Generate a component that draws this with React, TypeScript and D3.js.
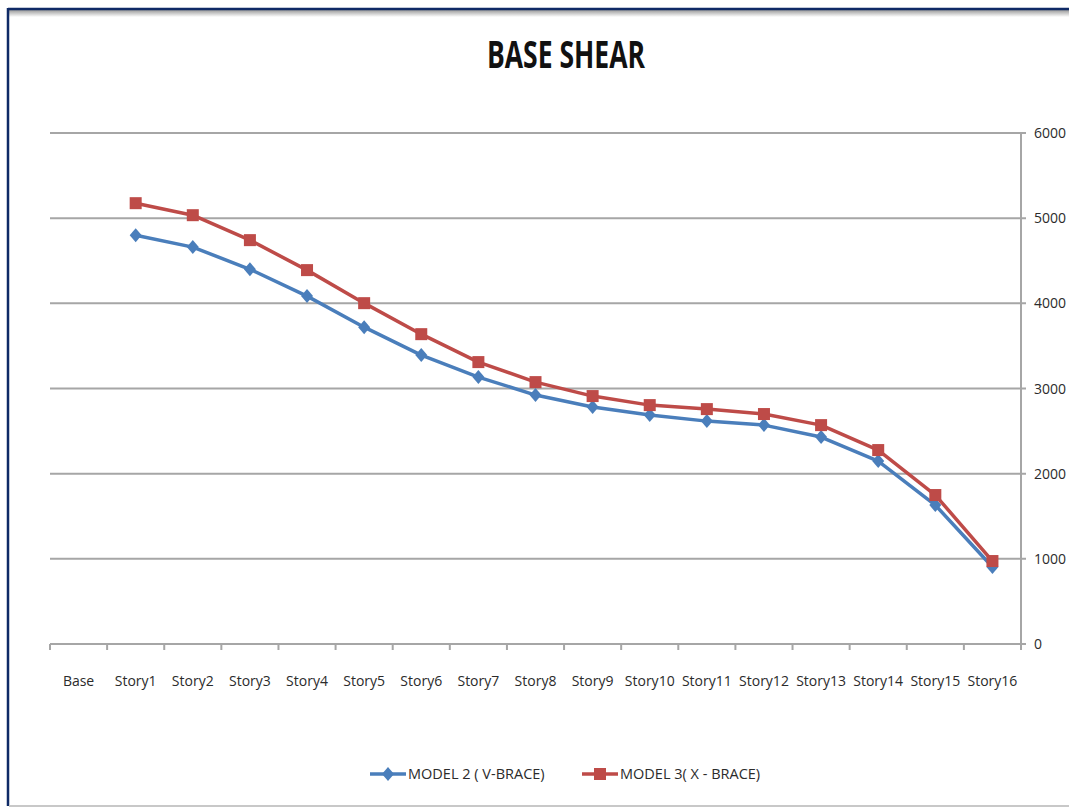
import * as d3 from 'd3';

const categories = [
  'Base', 'Story1', 'Story2', 'Story3', 'Story4', 'Story5', 'Story6', 'Story7', 'Story8',
  'Story9', 'Story10', 'Story11', 'Story12', 'Story13', 'Story14', 'Story15', 'Story16',
];

// Base has no value in either series
const model2Values: Array<number | null> = [
  null, 4800, 4660, 4400, 4085, 3720, 3392, 3134, 2923, 2782, 2688, 2617, 2570, 2430, 2148, 1631, 904,
];
const model3Values: Array<number | null> = [
  null, 5176, 5035, 4742, 4390, 4002, 3638, 3310, 3075, 2911, 2805, 2758, 2700, 2570, 2277, 1749, 974,
];
const yTicks = [0, 1000, 2000, 3000, 4000, 5000, 6000];

const series = [
  { name: 'MODEL 2 ( V-BRACE)', values: model2Values, color: '#4a7ebb', marker: 'diamond' },
  { name: 'MODEL 3( X - BRACE)', values: model3Values, color: '#be4b48', marker: 'square' },
];

const width = 1069;
const height = 809;
const plot = { left: 50, right: 1021, top: 133, bottom: 644 };
const font = '"Open Sans", sans-serif';

function Marker({ kind, x, y, color }: { kind: string; x: number; y: number; color: string }) {
  if (kind === 'square') {
    return <rect x={x - 6} y={y - 6} width={12} height={12} fill={color} />;
  }
  return <path d={`M${x},${y - 7}L${x + 6},${y}L${x},${y + 7}L${x - 6},${y}Z`} fill={color} />;
}

export default function App() {
  const x = d3.scaleBand<string>().domain(categories).range([plot.left, plot.right]);
  const y = d3.scaleLinear().domain([0, 6000]).range([plot.bottom, plot.top]);
  const cx = (c: string) => (x(c) ?? 0) + x.bandwidth() / 2;

  const line = d3
    .line<number | null>()
    .defined((v) => v !== null)
    .x((_, i) => cx(categories[i]))
    .y((v) => y(v as number));

  const boundaries = categories.map((c) => x(c) ?? 0).concat([plot.right]);

  return (
    <svg
      width={width}
      height={height}
      style={{ position: 'absolute', left: 0, top: 0, background: '#fff' }}
    >
      <defs>
        <linearGradient id="topShade" x1="0" y1="0" x2="0" y2="1">
          <stop offset="0" stopColor="#9a9a9a" />
          <stop offset="1" stopColor="#ffffff" />
        </linearGradient>
      </defs>
      <rect x={0} y={0} width={width} height={height} fill="#fff" />
      <rect x={9} y={10} width={width - 9} height={7} fill="url(#topShade)" />
      <line x1={8} x2={width} y1={9} y2={9} stroke="#0f2a66" strokeWidth={2.5} />
      <line x1={8} x2={8} y1={8} y2={806} stroke="#0f2a66" strokeWidth={2.5} />
      <line x1={9} x2={width} y1={806} y2={806} stroke="#c8c8c8" strokeWidth={2} />

      <text
        x={487}
        y={68}
        fontFamily={font}
        fontWeight="bold"
        fontSize={37}
        textLength={158}
        lengthAdjust="spacingAndGlyphs"
        fill="#111"
      >
        BASE SHEAR
      </text>

      {yTicks.map((t) => (
        <g key={t}>
          <line x1={plot.left} x2={plot.right + 5} y1={y(t)} y2={y(t)} stroke="#a6a6a6" strokeWidth={2} />
          <text
            x={plot.right + 13}
            y={y(t) + 5}
            fontFamily={font}
            fontSize={14}
            fill="#2b2b2b"
          >
            {t}
          </text>
        </g>
      ))}
      <line x1={plot.right} x2={plot.right} y1={plot.top} y2={plot.bottom} stroke="#a6a6a6" strokeWidth={2} />

      {boundaries.map((b, i) => (
        <line key={i} x1={b} x2={b} y1={plot.bottom} y2={plot.bottom + 6} stroke="#a6a6a6" strokeWidth={2} />
      ))}
      {categories.map((c) => (
        <text
          key={c}
          x={cx(c)}
          y={plot.bottom + 42}
          textAnchor="middle"
          fontFamily={font}
          fontSize={14}
          fill="#2b2b2b"
        >
          {c}
        </text>
      ))}

      {series.map((s) => (
        <g key={s.name}>
          <path d={line(s.values) ?? ''} fill="none" stroke={s.color} strokeWidth={3.5} strokeLinejoin="round" />
          {s.values.map((v, i) =>
            v === null ? null : (
              <Marker key={i} kind={s.marker} x={cx(categories[i])} y={y(v)} color={s.color} />
            ),
          )}
        </g>
      ))}

      {series.map((s, i) => {
        const lx = 370 + i * 212;
        return (
          <g key={s.name}>
            <line x1={lx} x2={lx + 36} y1={774} y2={774} stroke={s.color} strokeWidth={3.5} />
            <Marker kind={s.marker} x={lx + 18} y={774} color={s.color} />
            <text x={lx + 38} y={779} fontFamily={font} fontSize={14.5} fill="#2b2b2b">
              {s.name}
            </text>
          </g>
        );
      })}
    </svg>
  );
}
